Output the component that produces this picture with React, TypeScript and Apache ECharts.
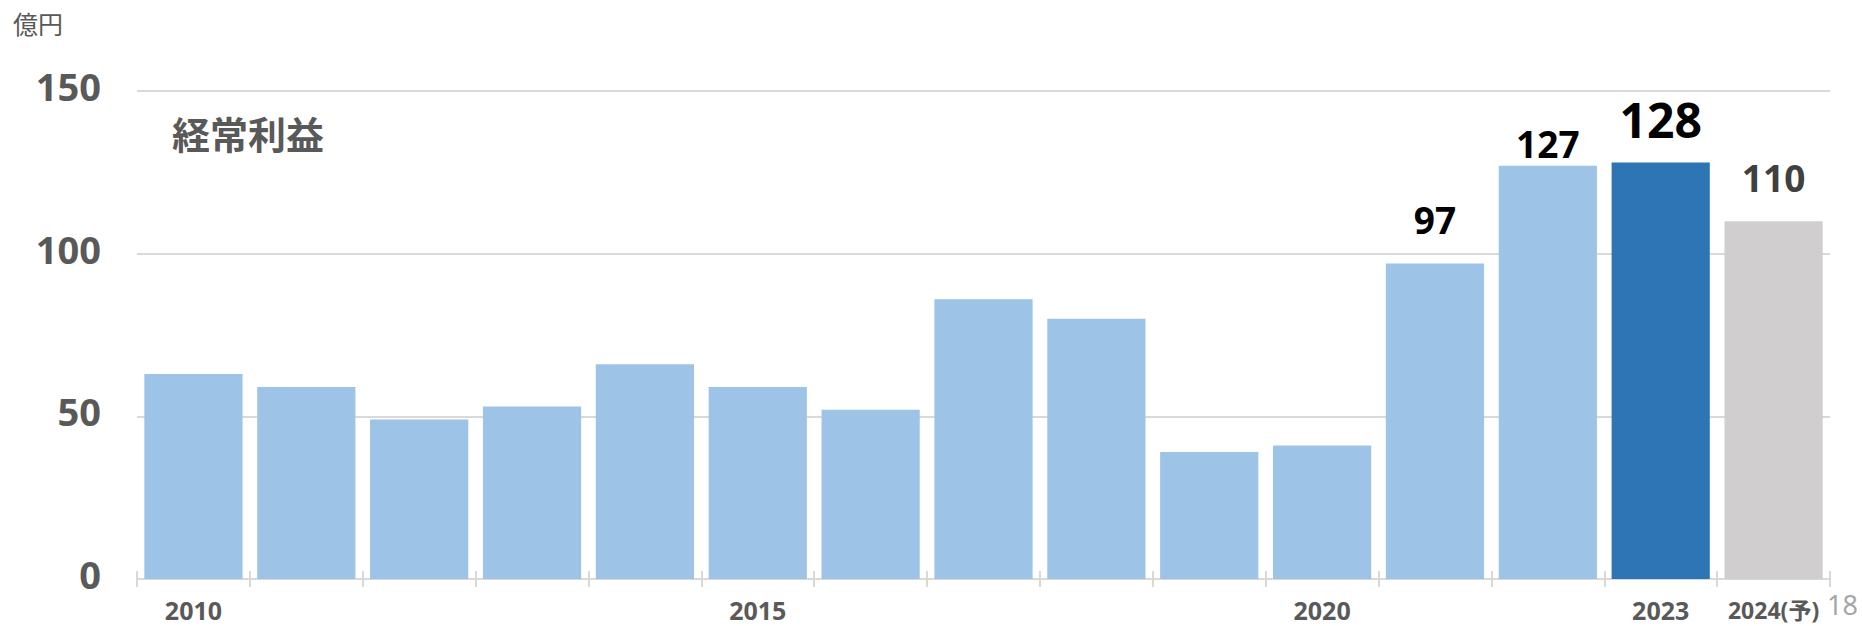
import React, { useEffect, useRef } from "react";
import * as echarts from "echarts";

const categories = ["2010", "2011", "2012", "2013", "2014", "2015", "2016", "2017", "2018", "2019", "2020", "2021", "2022", "2023", "2024"];
const xTickLabels = ["2010", "", "", "", "", "2015", "", "", "", "", "2020", "", "", "2023", "2024(予)"];
const values = [63, 59, 49, 53, 66, 59, 52, 86, 80, 39, 41, 97, 127, 128, 110];
const yTicks = [0, 50, 100, 150];
const title = "経常利益";
const unit = "億円";
const pageNo = "18";

const LIGHT = "#9DC3E6";
const DARK = "#2E75B6";
const GRAY = "#D0CECE";
const TXT = "#595959";
const FONT = "'Noto Sans', 'Noto Sans CJK JP', sans-serif";

export default function App() {
  const ref = useRef<HTMLDivElement>(null);
  useEffect(() => {
    document.body.style.margin = "0";
    if (!ref.current) return;
    const chart = echarts.init(ref.current, null, { renderer: "svg" });
    const n = values.length;
    const data = values.map((v, i) => {
      const isCur = i === n - 2;
      const isFc = i === n - 1;
      const labelled = i >= n - 4;
      let color = LIGHT;
      if (isCur) color = DARK;
      if (isFc) color = GRAY;
      let distance = 25;
      if (i === n - 3) distance = 4;
      if (isCur) distance = 19;
      return {
        value: v,
        itemStyle: { color },
        label: {
          show: labelled,
          position: "top",
          distance,
          formatter: "{c}",
          fontFamily: FONT,
          fontWeight: "bold",
          fontSize: isCur ? 48 : 37,
          color: isFc ? "#404040" : "#000000",
        },
      };
    });
    chart.setOption({
      animation: false,
      grid: { left: 137, right: 32, top: 91, bottom: 47 },
      xAxis: [
        {
          type: "category",
          data: categories,
          boundaryGap: true,
          axisLine: { show: true, lineStyle: { color: "#D9D9D9", width: 2 } },
          axisTick: { show: true, length: 8, lineStyle: { color: "#D9D9D9", width: 2 } },
          axisLabel: {
            interval: 0,
            margin: 18,
            fontFamily: FONT,
            fontWeight: "bold",
            fontSize: 25,
            color: TXT,
            formatter: (_v: string, idx: number) => {
              const t = xTickLabels[idx];
              if (!t) return "";
              return idx === n - 1 ? `{p|${t}}` : t;
            },
            rich: {
              p: { fontFamily: FONT, fontWeight: "bold", fontSize: 23, color: TXT, lineHeight: 24, padding: [1, 0, 0, 0] },
            },
          },
        },
        {
          type: "category",
          data: categories,
          position: "bottom",
          offset: 0,
          boundaryGap: true,
          axisLine: { show: false },
          axisTick: { show: true, inside: true, length: 8, lineStyle: { color: "#D9D9D9", width: 2 } },
          axisLabel: { show: false },
        },
      ],
      yAxis: {
        type: "value",
        min: 0,
        max: 150,
        interval: 50,
        axisLine: { show: false },
        axisTick: { show: false },
        splitLine: { show: true, lineStyle: { color: "#D9D9D9", width: 2 } },
        axisLabel: {
          margin: 36,
          formatter: (v: number) => (yTicks.includes(v) ? `{a|${v}}` : ""),
          rich: {
            a: { fontFamily: FONT, fontWeight: "bold", fontSize: 38, color: TXT, padding: [0, 0, 10, 0] },
          },
        },
      },
      series: [
        {
          type: "bar",
          xAxisIndex: 0,
          data,
          barCategoryGap: "13%",
        },
      ],
      graphic: [
        {
          type: "text",
          left: 13,
          top: 11,
          style: { text: unit, fontFamily: FONT, fontSize: 25, fill: TXT },
        },
        {
          type: "text",
          left: 172,
          top: 115,
          style: { text: title, fontFamily: FONT, fontWeight: "bold", fontSize: 38, fill: TXT },
        },
        {
          type: "text",
          right: 4,
          top: 591,
          style: { text: pageNo, fontFamily: FONT, fontSize: 27, fill: "#A6A6A6" },
        },
      ],
    });
    return () => chart.dispose();
  }, []);
  return <div ref={ref} style={{ width: 1862, height: 626 }} />;
}
